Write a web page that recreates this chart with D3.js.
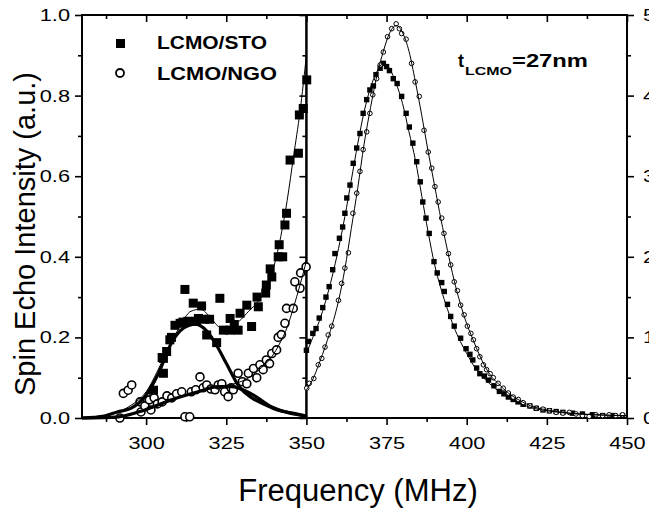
<!DOCTYPE html>
<html>
<head>
<meta charset="utf-8">
<script src="https://cdn.jsdelivr.net/npm/d3@7"></script>
<style>
  body { margin: 0; background: #fff; }
  svg { display: block; font-family: "Liberation Sans", Arial, sans-serif; }
</style>
</head>
<body>
<div id="chart"></div>
<script>
// left panel, 280-350 MHz, left axis (0-1)
const stoLeft = [[302.3,0.069],[305.0,0.15],[305.4,0.111],[305.4,0.148],[306.4,0.165],[307.4,0.194],[307.9,0.20],[309.0,0.23],[310.6,0.235],[311.5,0.238],[312.1,0.319],[313.0,0.24],[314.7,0.285],[315.5,0.24],[316.3,0.247],[317.3,0.278],[318.2,0.245],[318.9,0.206],[319.8,0.245],[322.0,0.187],[323.0,0.297],[324.1,0.218],[326.2,0.218],[326.2,0.247],[327.5,0.232],[328.7,0.218],[329.3,0.26],[331.4,0.28],[332.9,0.227],[334.6,0.30],[335.0,0.276],[337.3,0.31],[337.5,0.33],[338.7,0.37],[339.2,0.35],[341.2,0.40],[341.5,0.43],[342.6,0.40],[343.3,0.479],[343.8,0.508],[344.9,0.64],[347.5,0.657],[347.8,0.752],[349.0,0.768],[350.1,0.839]];
const ngoLeft = [[291.8,0.0],[292.9,0.061],[294.4,0.069],[295.5,0.082],[298.1,0.04],[298.4,0.015],[299.6,0.03],[301.0,0.045],[301.5,0.02],[302.5,0.05],[303.5,0.035],[305.0,0.04],[306.5,0.055],[308.0,0.05],[309.5,0.06],[311.1,0.065],[312.1,0.003],[313.6,0.003],[314.1,0.065],[315.5,0.07],[316.8,0.102],[317.8,0.075],[318.9,0.082],[320.2,0.072],[321.5,0.07],[322.5,0.082],[323.6,0.085],[324.5,0.065],[325.6,0.053],[326.5,0.075],[327.2,0.07],[328.7,0.111],[330.0,0.09],[331.4,0.085],[331.9,0.111],[333.5,0.123],[334.5,0.1],[335.5,0.132],[336.5,0.12],[337.5,0.144],[338.5,0.135],[339.2,0.16],[340.7,0.169],[341.2,0.20],[342.2,0.207],[343.3,0.235],[343.8,0.272],[345.9,0.272],[346.4,0.338],[348.0,0.322],[348.2,0.36],[349.9,0.375]];

// fit curves (left)
const stoFitLeft = [[280,0.0],[290,0.012],[295,0.03],[300,0.065],[305,0.14],[310,0.22],[314,0.265],[317,0.27],[320,0.25],[323,0.226],[326,0.225],[329,0.24],[332,0.265],[335,0.29],[338,0.33],[340,0.38],[342,0.45],[344,0.54],[346,0.65],[348,0.76],[350,0.9]];
const stoPeakLeft = [[280,0.0],[287,0.005],[291,0.015],[295.5,0.025],[299.6,0.053],[303.8,0.11],[307.9,0.186],[311.5,0.222],[315.5,0.233],[319,0.215],[322,0.18],[325,0.136],[329,0.078],[333,0.05],[337.4,0.032],[341,0.02],[345.7,0.012],[350,0.005]];
const ngoPeakLeft = [[280,0.0],[291.4,0.003],[299.6,0.02],[307.9,0.045],[316.2,0.065],[322.4,0.078],[326.5,0.078],[332.8,0.06],[339,0.028],[344,0.014],[350,0.005]];
const ngoFitLeft = [[280,0.0],[290,0.003],[300,0.02],[310,0.05],[318,0.07],[324,0.08],[328,0.086],[332,0.1],[336,0.125],[339,0.15],[342,0.19],[344,0.225],[346,0.275],[348,0.33],[350,0.39]];

// right panel, 350-450 MHz, right axis (0-5)
const stoRight = [[350.0,0.84],[350.6,0.95],[352.0,1.05],[353.0,1.11],[354.0,1.24],[355.1,1.37],[356.1,1.5],[357.1,1.63],[358.2,1.84],[358.9,2.04],[360.3,2.23],[361.3,2.37],[362.0,2.54],[362.6,2.73],[363.6,2.89],[364.6,3.16],[365.7,3.35],[366.7,3.53],[367.7,3.78],[368.8,3.95],[369.8,4.07],[370.9,4.12],[371.7,4.26],[373.0,4.34],[374.0,4.4],[375.0,4.36],[375.9,4.31],[377.1,4.21],[378.3,4.15],[379.7,3.99],[381.1,3.78],[382.1,3.61],[383.2,3.41],[384.4,3.18],[385.5,2.93],[386.3,2.68],[387.3,2.48],[388.3,2.29],[389.8,1.94],[390.8,1.8],[392.2,1.68],[393.0,1.57],[394.0,1.41],[395.0,1.26],[396.1,1.14],[398.1,0.99],[399.8,0.86],[401.0,0.79],[401.9,0.72],[403.1,0.62],[404.1,0.55],[405.5,0.52],[406.8,0.47],[408.5,0.4],[410.2,0.33],[411.6,0.30],[413.0,0.26],[414.5,0.23],[416.0,0.2],[417.6,0.17],[419.7,0.15],[421.7,0.12],[423.8,0.10],[425.8,0.09],[427.9,0.08],[430.0,0.07],[433.0,0.06],[436.1,0.05],[439.2,0.04],[442.4,0.03],[445.5,0.03],[448.6,0.03]];
const ngoRight = [[350.1,0.37],[350.9,0.43],[352.3,0.49],[353.7,0.66],[354.8,0.74],[355.8,0.88],[356.8,1.03],[357.9,1.14],[360.0,1.46],[361.0,1.67],[362.0,1.86],[363.1,2.05],[364.5,2.54],[365.7,2.79],[366.7,3.06],[367.7,3.33],[368.8,3.55],[369.8,3.78],[370.7,4.01],[371.9,4.21],[373.0,4.38],[374.0,4.54],[375.3,4.73],[376.6,4.83],[378.0,4.89],[379.0,4.83],[379.7,4.77],[381.1,4.7],[382.8,4.4],[383.9,4.17],[385.2,3.99],[386.7,3.57],[388.0,3.3],[389.1,3.1],[390.1,2.87],[391.1,2.68],[392.2,2.48],[392.9,2.29],[394.3,2.04],[395.0,1.9],[396.1,1.69],[397.1,1.58],[398.1,1.4],[399.2,1.28],[400.2,1.14],[401.3,1.05],[402.1,0.97],[403.1,0.86],[404.1,0.76],[405.2,0.66],[406.2,0.6],[407.3,0.55],[408.3,0.5],[409.8,0.43],[411.4,0.37],[413.0,0.31],[414.5,0.26],[416.1,0.23],[417.6,0.19],[419.7,0.15],[421.7,0.12],[423.8,0.11],[425.8,0.09],[427.9,0.07],[430.0,0.06],[432.0,0.07],[434.1,0.05],[436.1,0.03],[438.2,0.02],[440.3,0.04],[442.4,0.03],[444.4,0.04],[446.5,0.03],[448.6,0.04]];

const stoFitRight = [[350,0.8],[352,1.0],[354,1.2],[356,1.45],[358,1.75],[360,2.1],[362,2.5],[364,2.95],[366,3.4],[368,3.8],[370,4.1],[372,4.3],[374,4.4],[376,4.33],[378,4.15],[380,3.9],[382,3.55],[384,3.2],[386,2.75],[388,2.3],[390,1.9],[392,1.6],[394,1.35],[396,1.13],[398,0.95],[400,0.8],[403,0.6],[406,0.47],[410,0.33],[415,0.21],[420,0.13],[425,0.09],[430,0.065],[440,0.04],[450,0.03]];
const ngoFitRight = [[350,0.35],[352,0.48],[354,0.68],[356,0.9],[358,1.15],[360,1.45],[362,1.85],[364,2.35],[366,2.85],[368,3.4],[370,3.85],[372,4.25],[374,4.55],[376,4.78],[378,4.87],[380,4.78],[382,4.55],[384,4.17],[386,3.75],[388,3.3],[390,2.88],[392,2.46],[394,2.08],[396,1.72],[398,1.42],[400,1.17],[402,0.97],[404,0.78],[406,0.62],[408,0.5],[410,0.42],[413,0.31],[416,0.23],[420,0.15],[425,0.1],[430,0.07],[440,0.04],[450,0.03]];

const xMajor = [300, 325, 350, 375, 400, 425, 450];
const xMinor = [287.5, 312.5, 337.5, 362.5, 387.5, 412.5, 437.5];
const yLeftTicks = [0, 0.2, 0.4, 0.6, 0.8, 1.0];
const yLeftMinor = [0.1, 0.3, 0.5, 0.7, 0.9];
const yRightTicks = [0, 1, 2, 3, 4, 5];
const yRightMinor = [0.5, 1.5, 2.5, 3.5, 4.5];

const width = 649, height = 510;
const margin = { top: 15, right: 22, bottom: 92, left: 82 };
const plotRight = width - margin.right;
const plotBottom = height - margin.bottom;

const svg = d3.select('#chart').append('svg').attr('width', width).attr('height', height);

const x = d3.scaleLinear().domain([280, 450]).range([margin.left, plotRight]);
const yL = d3.scaleLinear().domain([0, 1]).range([plotBottom, margin.top]);
const yR = d3.scaleLinear().domain([0, 5]).range([plotBottom, margin.top]);

function stretch(sel, k) {
    sel.each(function () {
        const len = this.getComputedTextLength();
        d3.select(this).attr('textLength', len * k).attr('lengthAdjust', 'spacingAndGlyphs');
    });
}

function axisGroup(axis, tx, ty) {
    const g = svg.append('g').attr('transform', `translate(${tx},${ty})`).call(axis);
    g.select('.domain').remove();
    g.selectAll('line').attr('stroke', '#000').attr('stroke-width', 1.6);
    g.selectAll('text').attr('fill', '#000').style('font-size', '17px');
    return g;
}

// bottom (outward) and top (inward) ticks
const xb = axisGroup(d3.axisBottom(x).tickValues(xMajor).tickSize(7).tickPadding(12).tickFormat(d3.format('d')), 0, plotBottom);
axisGroup(d3.axisBottom(x).tickValues(xMinor).tickSize(4).tickFormat(''), 0, plotBottom);
axisGroup(d3.axisBottom(x).tickValues(xMajor).tickSize(7).tickFormat(''), 0, margin.top);
axisGroup(d3.axisBottom(x).tickValues(xMinor).tickSize(4).tickFormat(''), 0, margin.top);

// left axis
const yl = axisGroup(d3.axisLeft(yL).tickValues(yLeftTicks).tickSize(7).tickPadding(5).tickFormat(d3.format('.1f')), margin.left, 0);
axisGroup(d3.axisLeft(yL).tickValues(yLeftMinor).tickSize(4).tickFormat(''), margin.left, 0);

// right axis
const yr = axisGroup(d3.axisRight(yR).tickValues(yRightTicks).tickSize(7).tickPadding(9).tickFormat(d3.format('d')), plotRight, 0);
axisGroup(d3.axisRight(yR).tickValues(yRightMinor).tickSize(4).tickFormat(''), plotRight, 0);

// divider at 350 with outward ticks of right panel
axisGroup(d3.axisLeft(yR).tickValues(yRightTicks).tickSize(7).tickFormat(''), x(350), 0);
axisGroup(d3.axisLeft(yR).tickValues(yRightMinor).tickSize(4).tickFormat(''), x(350), 0);

stretch(xb.selectAll('text'), 1.28);
stretch(yl.selectAll('text'), 1.28);
stretch(yr.selectAll('text'), 1.28);

// frame
svg.append('rect')
    .attr('x', margin.left).attr('y', margin.top)
    .attr('width', plotRight - margin.left).attr('height', plotBottom - margin.top)
    .attr('fill', 'none').attr('stroke', '#000').attr('stroke-width', 2);
svg.append('line')
    .attr('x1', x(350)).attr('x2', x(350)).attr('y1', margin.top).attr('y2', plotBottom)
    .attr('stroke', '#000').attr('stroke-width', 2.5);

// markers
const marks = svg.append('g');
marks.selectAll('.sqL').data(stoLeft).enter().append('rect')
    .attr('x', (d) => x(d[0]) - 4.5).attr('y', (d) => yL(d[1]) - 4.5)
    .attr('width', 9).attr('height', 9).attr('fill', '#000');
marks.selectAll('.ciL').data(ngoLeft).enter().append('circle')
    .attr('cx', (d) => x(d[0])).attr('cy', (d) => yL(d[1])).attr('r', 4)
    .attr('fill', '#fff').attr('stroke', '#000').attr('stroke-width', 1.6);
marks.selectAll('.sqR').data(stoRight).enter().append('rect')
    .attr('x', (d) => x(d[0]) - 2.7).attr('y', (d) => yR(d[1]) - 2.7)
    .attr('width', 5.4).attr('height', 5.4).attr('fill', '#000');
marks.selectAll('.ciR').data(ngoRight).enter().append('circle')
    .attr('cx', (d) => x(d[0])).attr('cy', (d) => yR(d[1])).attr('r', 2.3)
    .attr('fill', '#fff').attr('stroke', '#000').attr('stroke-width', 1);

// fit lines
const lineL = d3.line().x((d) => x(d[0])).y((d) => yL(d[1])).curve(d3.curveMonotoneX);
const lineR = d3.line().x((d) => x(d[0])).y((d) => yR(d[1])).curve(d3.curveMonotoneX);
const fits = [
    [stoFitLeft, lineL, 1],
    [ngoFitLeft, lineL, 1],
    [stoPeakLeft, lineL, 3.2],
    [ngoPeakLeft, lineL, 3.2],
    [stoFitRight, lineR, 1],
    [ngoFitRight, lineR, 1]
];
fits.forEach(([pts, gen, w]) => {
    svg.append('path').attr('d', gen(pts)).attr('fill', 'none').attr('stroke', '#000').attr('stroke-width', w);
});

// legend
svg.append('rect').attr('x', 116).attr('y', 39).attr('width', 9).attr('height', 9).attr('fill', '#000');
svg.append('circle').attr('cx', 120).attr('cy', 73).attr('r', 4).attr('fill', '#fff').attr('stroke', '#000').attr('stroke-width', 1.8);
const legendText = svg.append('g').style('font-size', '18px').style('font-weight', 'bold');
legendText.append('text').attr('x', 157).attr('y', 49).text('LCMO/STO').attr('textLength', 110).attr('lengthAdjust', 'spacingAndGlyphs');
legendText.append('text').attr('x', 157).attr('y', 80).text('LCMO/NGO').attr('textLength', 120).attr('lengthAdjust', 'spacingAndGlyphs');

// annotation
const note = svg.append('g').style('font-weight', 'bold');
note.append('text').attr('x', 458).attr('y', 67).style('font-size', '18px').text('t');
note.append('text').attr('x', 465).attr('y', 75).style('font-size', '11px').text('LCMO').attr('textLength', 47).attr('lengthAdjust', 'spacingAndGlyphs');
note.append('text').attr('x', 512).attr('y', 67).style('font-size', '18px').text('=27nm').attr('textLength', 76).attr('lengthAdjust', 'spacingAndGlyphs');

// axis titles
svg.append('text')
    .attr('transform', `translate(35,234) rotate(-90)`)
    .attr('text-anchor', 'middle').style('font-size', '29px')
    .text('Spin Echo Intensity (a.u.)');
svg.append('text')
    .attr('x', 358).attr('y', 501)
    .attr('text-anchor', 'middle').style('font-size', '31px')
    .text('Frequency (MHz)');
</script>
</body>
</html>
